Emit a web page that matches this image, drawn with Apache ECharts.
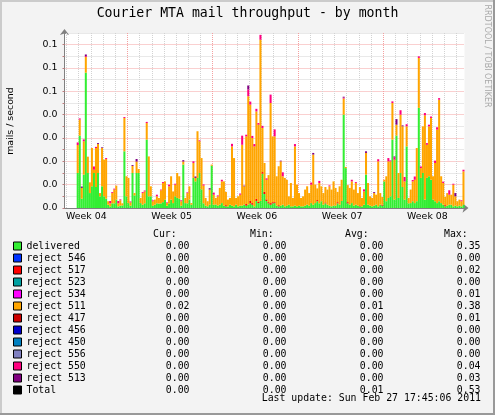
<!DOCTYPE html>
<html><head><meta charset="utf-8">
<script src="https://cdn.jsdelivr.net/npm/echarts@6/dist/echarts.min.js"></script>
<style>html,body{margin:0;padding:0;background:#F3F3F3}#c{width:495px;height:415px}</style>
</head><body><div id="c"></div>
<script>
// time axis (hours since Mon 24 Jan 2011 00:00), 4-hour bins
const axisStartHour = 44;   // left edge of the plot  (Tue 25 Jan 20:00)
const axisEndHour = 832;    // right edge of the plot (Sun 27 Feb 16:00)
const binHours = 4;
const startHour = 70;       // centre of the first data bin

const delivered = [
0.015,0.031,0.004,0.0143,0.058,0.015,0.0064,0.0093,0.015,0.009,
0.015,0.005,0.0093,0.005,0.004,0.0014,0.0007,0.002,0.002,0.0036,
0.0007,0.001,0.0011,0.0243,0.005,0.0021,0.001,0.015,0.0054,0.015,
0.015,0.0021,0.0014,0.002,0.0293,0.005,0.005,0.001,0.0014,0.002,
0.0019,0.002,0.0025,0.0036,0.001,0.002,0.0036,0.0021,0.005,0.0043,
0.004,0.001,0.0186,0.0021,0.002,0.0036,0.0014,0.0129,0.0114,0.0129,
0.015,0.008,0.002,0.001,0.0007,0.0014,0.0181,0.0014,0.0015,0.001,
0.0014,0.0021,0.001,0.0007,0.0007,0.0014,0.001,0.0007,0.0014,0.0007,
0.001,0.001,0.0014,0.001,0.0014,0.002,0.0014,0.0007,0.003,0.0021,
0.003,0.0147,0.006,0.003,0.002,0.0014,0.002,0.0021,0.001,0.0007,
0.001,0.0014,0.0007,0.001,0.0014,0.0007,0.0007,0.001,0.0007,0.001,
0.0007,0.0007,0.001,0.0014,0.001,0.0021,0.0014,0.0021,0.0029,0.002,
0.0029,0.0014,0.002,0.0014,0.001,0.0007,0.001,0.001,0.002,0.0014,
0.003,0.04,0.0171,0.002,0.0014,0.0021,0.001,0.0014,0.001,0.0007,
0.0007,0.0014,0.0143,0.0014,0.001,0.0007,0.001,0.0014,0.0007,0.0014,
0.001,0.0114,0.0029,0.0043,0.005,0.0293,0.0036,0.031,0.0043,0.015,
0.009,0.0036,0.0264,0.002,0.0021,0.0029,0.0021,0.0029,0.0429,0.0129,
0.015,0.0036,0.0129,0.0136,0.0121,0.0036,0.0029,0.0021,0.0029,0.0021,
0.0014,0.0007,0.001,0.0014,0.0014,0.0007,0.001,0.0007,0.001,0.0007,
0.0014];

const reject517 = [
0,0,0,0,0,0,0,0,0,0, 0,0,0,0,0,0,0,0,0,0, 0,0,0,0,0,0,0,0,0,0,
0,0,0,0,0,0,0,0,0,0, 0,0,0,0,0,0,0,0,0,0, 0,0,0,0,0,0,0,0,0,0,
0,0,0,0,0,0,0,0,0,0,
0,0,0,0.0005,0,0,0,0,0,0,
0,0,0,0.0007,0,0.001,0.0007,0,0.0009,0.0005,
0,0.0007,0.0009,0.0007,0.0005,0.0007,0.0005,0.0004,0,0.0005,
0,0,0,0,0,0,0,0,0,0,
0,0,0,0,0,0,0,0,0.0005,0,
0,0,0.0004,0,0,0,0,0,0.0005,0,
0,0,0,0.0005,0,0,0,0,0,0.0004,
0,0,0,0,0,0,0,0,0,0,
0.0004,0,0,0,0,0,0,0,0,0,
0,0,0,0,0,0,0,0,0,0,
0,0,0,0,0,0,0,0,0,0,
0,0.0005,0,0,0,0,0,0,0,0,
0];

const reject511 = [
0.012,0.0069,0.0046,0.0143,0.0067,0.007,0.0046,0.0164,0.0014,0.0167,
0.0124,0.0014,0.0164,0.0157,0.017,0.0015,0.0013,0.0044,0.0059,0.006,
0.0013,0.0023,0.0009,0.0143,0.0086,0.0108,0.0014,0.003,0.001,0.0049,
0.0017,0.0022,0.005,0.0051,0.0071,0.0171,0.0043,0.0019,0.0022,0.003,
0.0024,0.0056,0.0082,0.0078,0.0011,0.0073,0.01,0.005,0.005,0.0107,
0.0096,0.0019,0.0013,0.0022,0.0044,0.0057,0.0007,0.0064,0.0015,0.02,
0.0136,0.0134,0.0076,0.0033,0.0022,0.0065,0.0005,0.0043,0.0028,0.004,
0.0072,0.0093,0.0104,0.0057,0.0029,0.0029,0.0254,0.0207,0.0029,0.0043,
0.0047,0.0261,0.0079,0.029,0.0465,0.0413,0.0279,0.0257,0.0375,0.0331,
0.0691,0.0189,0.0124,0.0084,0.0116,0.0429,0.0282,0.0282,0.0126,0.0167,
0.019,0.0122,0.0122,0.0111,0.0036,0.01,0.0036,0.0254,0.0093,0.0054,
0.0036,0.0043,0.0069,0.0079,0.0054,0.0079,0.0215,0.0079,0.005,0.0087,
0.0064,0.005,0.0066,0.0065,0.0083,0.0072,0.0104,0.0076,0.0044,0.0079,
0.0091,0.0069,0.0005,0.0073,0.0072,0.0093,0.0069,0.0093,0.0054,0.0079,
0.0036,0.0057,0.0093,0.0093,0.004,0.0036,0.0054,0.0043,0.0193,0.005,
0.0033,0.0007,0.0107,0.0157,0.015,0.0157,0.0171,0.0047,0.0107,0.025,
0.026,0.0078,0.0086,0.0023,0.0058,0.0085,0.01,0.0228,0.0214,0.0042,
0.02,0.0361,0.0142,0.0214,0.0265,0.01,0.0164,0.0315,0.0435,0.0115,
0.0093,0.0036,0.0054,0.0043,0.0043,0.0093,0.004,0.0022,0.0026,0.0022,
0.0143];

const reject550 = [
0.0011,0.0005,0,0.0008,0.0004,0,0,0,0.0014,0.0005,
0,0,0,0,0.0004,0,0.001,0.0004,0.0004,0,
0.001,0.0004,0,0.0004,0,0,0.0004,0,0,0,
0,0,0.0004,0.0004,0.0005,0,0,0.0004,0,0.0007,
0,0.0003,0.0004,0,0.0003,0.0007,0,0,0.0004,0,
0,0.0004,0,0,0.0003,0,0,0.0007,0,0,
0.0004,0,0.0005,0,0,0,0,0.0009,0,0.0004,
0,0.0007,0,0,0,0,0.0011,0,0,0,
0.0005,0.0039,0,0.0007,0.0029,0.0013,0.0009,0.001,0.0011,0.0007,
0.0021,0.0009,0,0.0006,0,0.0036,0,0.003,0,0,
0,0.0017,0,0,0,0,0,0.001,0,0,
0,0,0,0,0,0.0009,0,0,0,0.0009,
0,0,0,0,0.0004,0,0,0,0,0,
0,0.0004,0,0,0,0.0007,0,0.0004,0,0,
0,0.0009,0,0,0,0,0,0,0.0009,0,
0,0,0,0.0014,0.0004,0.0007,0.001,0,0,0.0019,
0,0.0019,0.0009,0,0,0.0006,0.0014,0,0.0007,0.0007,
0,0.001,0.0007,0.0007,0.0006,0,0.001,0.001,0.0007,0,
0.0006,0,0,0.0019,0,0.0004,0,0,0,0.0004,
0.0007];

const reject513 = [
0,0,0.0006,0,0.0007,0,0,0,0,0,
0.0004,0,0.0003,0,0,0,0,0,0,0,
0,0,0,0,0,0,0,0.0004,0,0.0011,
0,0,0,0,0,0,0,0,0,0,
0,0,0,0,0,0,0,0,0,0,
0,0,0.0006,0,0,0,0,0,0.0006,0,
0,0,0,0,0,0.0006,0,0,0,0,
0,0,0,0,0,0,0,0,0,0,
0,0,0.0003,0,0.0017,0,0,0,0,0,
0,0,0,0,0,0,0,0,0,0,
0.0003,0,0,0,0,0,0,0,0,0,
0,0,0,0,0,0,0.0007,0,0,0,
0,0,0,0,0,0,0,0,0,0,
0,0.0004,0,0,0,0,0,0,0,0,
0,0,0.0007,0,0,0,0.0004,0,0,0,
0,0,0,0,0,0,0.0004,0.0024,0,0,
0.0004,0,0,0,0,0,0,0,0,0,
0,0,0,0,0,0,0,0,0,0,
0,0,0,0,0,0,0.0014,0,0,0,
0];

const seriesNames = ['delivered','reject 546','reject 517','reject 523','reject 534','reject 511',
  'reject 417','reject 456','reject 450','reject 556','reject 550','reject 513','Total'];
const seriesColors = ['#33EE33','#0033FF','#FF0000','#00A0A0','#FF00FF','#FFA500',
  '#CC0000','#0000CC','#0080C0','#8080C0','#FF0080','#800080','#000000'];
const seriesValues = {
  'delivered': delivered, 'reject 517': reject517, 'reject 511': reject511,
  'reject 550': reject550, 'reject 513': reject513
};
const curVals = ['0.00','0.00','0.00','0.00','0.00','0.02','0.00','0.00','0.00','0.00','0.00','0.00','0.00'];
const minVals = ['0.00','0.00','0.00','0.00','0.00','0.00','0.00','0.00','0.00','0.00','0.00','0.00','0.00'];
const avgVals = ['0.00','0.00','0.00','0.00','0.00','0.01','0.00','0.00','0.00','0.00','0.00','0.00','0.01'];
const maxVals = ['0.35','0.00','0.02','0.00','0.01','0.38','0.01','0.00','0.00','0.00','0.04','0.03','0.53'];

// y tick labels for 0.00, 0.01, ... 0.07 (printed with one decimal, as in the source)
const yTickValues = [0, 0.01, 0.02, 0.03, 0.04, 0.05, 0.06, 0.07];
const yTickLabels = ['0.0','0.0','0.0','0.0','0.0','0.1','0.1','0.1'];
const weekLabels = ['Week 04','Week 05','Week 06','Week 07','Week 08'];
const weekLabelHours = [84, 252, 420, 588, 756];
const lastUpdate = 'Last update: Sun Feb 27 17:45:06 2011';

const MONO = '"DejaVu Sans Mono"';
const SANS = '"DejaVu Sans"';

// category bins that tile the plot
const binCategories = [];
for (let h = axisStartHour + binHours / 2; h < axisEndHour; h += binHours) binCategories.push(String(h));
const firstBin = (startHour - (axisStartHour + binHours / 2)) / binHours;

const dayLines = [], weekLines = [];
for (let h = 48; h <= 816; h += 24) { (h % 168 === 0 ? weekLines : dayLines).push(h); }

const series = seriesNames.filter(n => n !== 'Total').map((name, k) => ({
  name, type: 'bar', stack: 'all', xAxisIndex: 0, barCategoryGap: '0%',
  data: (seriesValues[name] || []).map((v, i) => [firstBin + i, v]),
  itemStyle: { color: seriesColors[k], borderWidth: 0 },
  emphasis: { disabled: true }, animation: false, z: 2
}));
series.push({
  name: 'grid', type: 'line', xAxisIndex: 1, data: [], silent: true, animation: false,
  markLine: {
    silent: true, symbol: 'none', animation: false, z: 1, label: { show: false },
    emphasis: { disabled: true },
    data: dayLines.map(h => ({ xAxis: h, lineStyle: { color: '#D2D2D2', type: [1, 1], width: 1 } }))
      .concat(weekLines.map(h => ({ xAxis: h, lineStyle: { color: '#F4A0A0', type: [1, 1], width: 1 } })))
  }
});
series.push({ name: 'Total', type: 'line', xAxisIndex: 1, data: [], itemStyle: { color: '#000' }, animation: false });

const richBase = { fontFamily: MONO, fontSize: 9.85, color: '#000', lineHeight: 12 };
const chart = echarts.init(document.getElementById('c'), null, { renderer: 'canvas' });
chart.setOption({
  backgroundColor: '#F3F3F3',
  animation: false,
  grid: { left: 64.5, top: 33, width: 400, height: 175, show: true, backgroundColor: '#FFFFFF', borderWidth: 0 },
  xAxis: [{
    type: 'category', data: binCategories, boundaryGap: true,
    axisLine: { show: true, onZero: false, lineStyle: { color: '#808080' }, symbol: ['none', 'arrow'], symbolSize: [7, 6], symbolOffset: [0, 4] },
    axisTick: { show: false }, axisLabel: { show: false }, splitLine: { show: false }
  }, {
    type: 'value', min: axisStartHour, max: axisEndHour, position: 'bottom',
    axisLine: { show: false }, axisTick: { show: false }, splitLine: { show: false },
    axisLabel: {
      customValues: weekLabelHours,
      formatter: v => { const i = weekLabelHours.findIndex(h => Math.abs(h - v) < 0.5); return i >= 0 ? weekLabels[i] : ''; },
      fontFamily: SANS, fontSize: 9.4, color: '#000', margin: 4, padding: [0, 0, 0, 3]
    }
  }],
  yAxis: {
    type: 'value', min: 0, max: 0.075, interval: 0.005,
    axisLine: { show: true, lineStyle: { color: '#808080' }, symbol: ['none', 'arrow'], symbolSize: [7, 6], symbolOffset: [0, 4] },
    axisTick: { show: true, length: 2, lineStyle: { color: '#C08080' } },
    axisLabel: {
      interval: 0, showMaxLabel: false,
      formatter: v => { const i = yTickValues.findIndex(t => Math.abs(t - v) < 1e-6); return i >= 0 ? yTickLabels[i] : ''; },
      fontFamily: SANS, fontSize: 9.4, color: '#000', margin: 7
    },
    splitLine: { show: true, lineStyle: { color: ['#F4A0A0', '#D2D2D2'], type: [1, 1], width: 1 } }
  },
  legend: {
    orient: 'vertical', left: 13, top: 240, padding: 0, itemGap: 0,
    itemWidth: 8, itemHeight: 8, icon: 'rect', selectedMode: false,
    itemStyle: { borderColor: '#000', borderWidth: 1 },
    data: seriesNames,
    formatter: name => {
      const i = seriesNames.indexOf(name);
      return `{n|${name}}{c|${curVals[i]}}{m|${minVals[i]}}{a|${avgVals[i]}}{x|${maxVals[i]}}`;
    },
    textStyle: {
      fontFamily: MONO, fontSize: 9.85, color: '#000', lineHeight: 12,
      rich: {
        n: Object.assign({ width: 100, align: 'left' }, richBase),
        c: Object.assign({ width: 63, align: 'right' }, richBase),
        m: Object.assign({ width: 97, align: 'right' }, richBase),
        a: Object.assign({ width: 97, align: 'right' }, richBase),
        x: Object.assign({ width: 97, align: 'right' }, richBase)
      }
    }
  },
  graphic: [
    { type: 'text', x: 247.5, y: 13.5, silent: true, style: { text: 'Courier MTA mail throughput - by month', font: '13.2px ' + MONO, fill: '#000', textAlign: 'center', textVerticalAlign: 'middle' } },
    { type: 'text', x: 11, y: 121, rotation: Math.PI / 2, silent: true, style: { text: 'mails / second', font: '9.4px ' + SANS, fill: '#000', textAlign: 'center', textVerticalAlign: 'middle' } },
    { type: 'text', x: 487, y: 56, rotation: -Math.PI / 2, silent: true, style: { text: 'RRDTOOL / TOBI OETIKER', font: '8px ' + SANS, fill: '#A8A8A8', textAlign: 'center', textVerticalAlign: 'middle' } },
    { type: 'text', x: 153, y: 234.5, silent: true, style: { text: 'Cur:', font: '9.85px ' + MONO, fill: '#000', textAlign: 'left', textVerticalAlign: 'middle' } },
    { type: 'text', x: 250, y: 234.5, silent: true, style: { text: 'Min:', font: '9.85px ' + MONO, fill: '#000', textAlign: 'left', textVerticalAlign: 'middle' } },
    { type: 'text', x: 345, y: 234.5, silent: true, style: { text: 'Avg:', font: '9.85px ' + MONO, fill: '#000', textAlign: 'left', textVerticalAlign: 'middle' } },
    { type: 'text', x: 444, y: 234.5, silent: true, style: { text: 'Max:', font: '9.85px ' + MONO, fill: '#000', textAlign: 'left', textVerticalAlign: 'middle' } },
    { type: 'text', x: 481, y: 398.5, silent: true, style: { text: lastUpdate, font: '9.85px ' + MONO, fill: '#000', textAlign: 'right', textVerticalAlign: 'middle' } },
    { type: 'rect', silent: true, shape: { x: 0, y: 0, width: 495, height: 2 }, style: { fill: '#CBCBCB' } },
    { type: 'rect', silent: true, shape: { x: 0, y: 0, width: 2, height: 415 }, style: { fill: '#CBCBCB' } },
    { type: 'rect', silent: true, shape: { x: 493, y: 0, width: 2, height: 415 }, style: { fill: '#999999' } },
    { type: 'rect', silent: true, shape: { x: 0, y: 413, width: 495, height: 2 }, style: { fill: '#999999' } }
  ],
  series
});
</script></body></html>
